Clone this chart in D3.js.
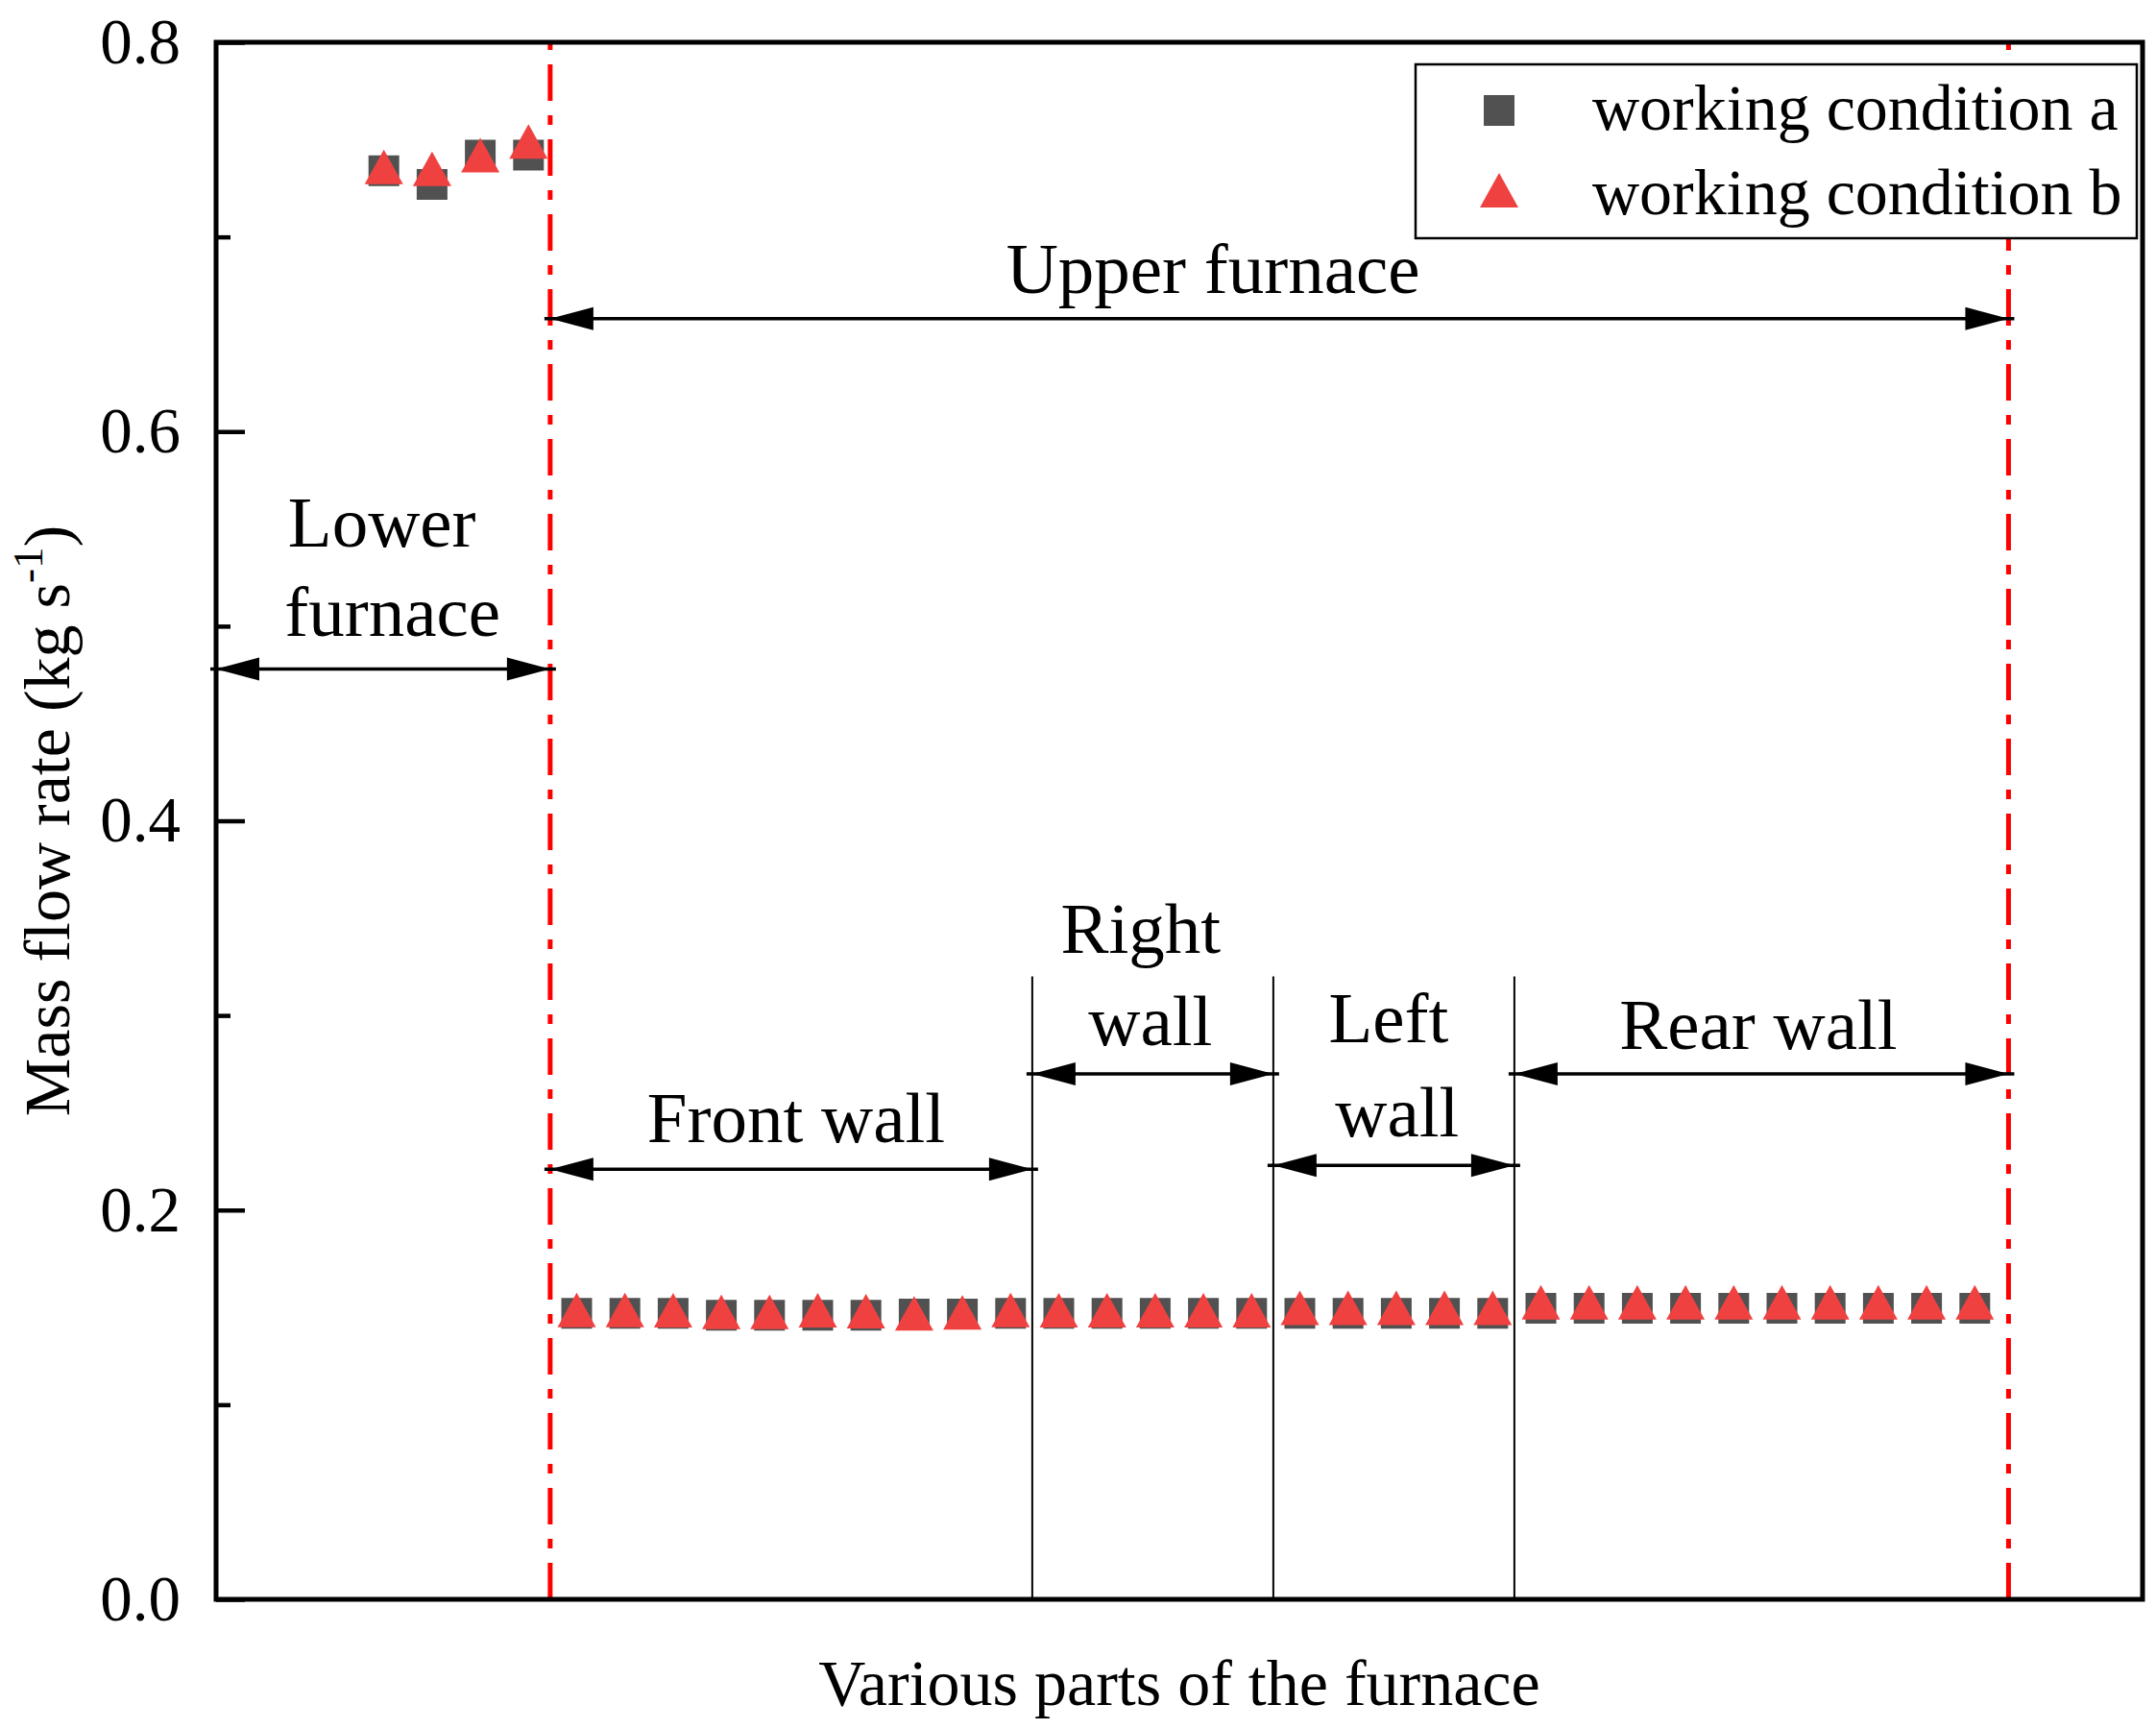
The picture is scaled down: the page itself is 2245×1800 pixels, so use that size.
<!DOCTYPE html>
<html>
<head>
<meta charset="utf-8">
<script src="https://cdn.jsdelivr.net/npm/d3@7"></script>
<style>
  body { margin: 0; background: white; }
  text { font-family: "Liberation Serif", "Times New Roman", serif; fill: black; }
</style>
</head>
<body>
<main></main>
<script>
// measuring points along the furnace walls (index order)
const positions = [1, 2, 3, 4,
    5, 6, 7, 8, 9, 10, 11, 12, 13, 14,
    15, 16, 17, 18, 19,
    20, 21, 22, 23, 24,
    25, 26, 27, 28, 29, 30, 31, 32, 33, 34]

// mass flow rate, kg/s
const conditionA = [0.734, 0.727, 0.742, 0.742,
    0.147, 0.147, 0.147, 0.146, 0.146, 0.146, 0.146, 0.1466, 0.1466, 0.147,
    0.147, 0.147, 0.147, 0.147, 0.147,
    0.147, 0.147, 0.147, 0.147, 0.147,
    0.1495, 0.1495, 0.1495, 0.1495, 0.1495, 0.1495, 0.1495, 0.1495, 0.1495, 0.1495]

const conditionB = [0.736, 0.735, 0.742, 0.749,
    0.1487, 0.1487, 0.1485, 0.1477, 0.1477, 0.1485, 0.148, 0.147, 0.1475, 0.1487,
    0.1486, 0.1486, 0.1486, 0.1486, 0.1486,
    0.1498, 0.1498, 0.1498, 0.1498, 0.1498,
    0.1526, 0.1526, 0.1526, 0.1526, 0.1526, 0.1526, 0.1526, 0.1526, 0.1526, 0.1526]

const seriesNames = ["working condition a", "working condition b"]

const yMajorTicks = [0, 0.2, 0.4, 0.6, 0.8]
const yMinorTicks = [0.1, 0.3, 0.5, 0.7]

// furnace zone borders (red) and wall borders (black)
const zoneBorders = [4.45, 34.7]
const wallBorders = [14.45, 19.45, 24.45]
const wallBorderTop = 0.32

// double arrows marking each zone
const spans = [
    { from: -2.48, to: 4.45, y: 0.478 },
    { from: 4.45, to: 34.7, y: 0.658 },
    { from: 4.45, to: 14.45, y: 0.221 },
    { from: 14.45, to: 19.45, y: 0.270 },
    { from: 19.45, to: 24.45, y: 0.223 },
    { from: 24.45, to: 34.7, y: 0.270 }
]

const zoneLabels = [
    { text: "Upper furnace", x: 18.2, y: 0.671 },
    { text: "Lower", x: 0.96, y: 0.541 },
    { text: "furnace", x: 1.18, y: 0.495 },
    { text: "Front wall", x: 9.55, y: 0.235 },
    { text: "Right", x: 16.7, y: 0.332 },
    { text: "wall", x: 16.9, y: 0.285 },
    { text: "Left", x: 21.84, y: 0.286 },
    { text: "wall", x: 22.02, y: 0.238 },
    { text: "Rear wall", x: 29.51, y: 0.283 }
]

const svgWidth = 2245
const svgHeight = 1800
const plotLeft = 225
const plotRight = 2231
const plotTop = 44
const plotBottom = 1665

const squareColor = "#515151"
const triangleColor = "#f04141"

let svg = d3.select("main")
    .append("svg")
    .attr("width", svgWidth)
    .attr("height", svgHeight)
    .style("background-color", "white")
    .style("display", "block")

let xScale = d3.scaleLinear()
    .domain([-2.48, 37.48])
    .range([plotLeft, plotRight])

let yScale = d3.scaleLinear()
    .domain([0, 0.8])
    .range([plotBottom, plotTop])

const squarePath = "M-16,-16H16V16H-16Z"
const trianglePath = "M0,-18L20,18H-20Z"

// wall dividers
svg.append("g")
    .selectAll("line")
    .data(wallBorders)
    .enter()
    .append("line")
    .attr("x1", d => xScale(d))
    .attr("x2", d => xScale(d))
    .attr("y1", yScale(0))
    .attr("y2", yScale(wallBorderTop))
    .attr("stroke", "black")
    .attr("stroke-width", 2)

// zone borders
svg.append("g")
    .selectAll("line")
    .data(zoneBorders)
    .enter()
    .append("line")
    .attr("x1", d => xScale(d))
    .attr("x2", d => xScale(d))
    .attr("y1", yScale(0))
    .attr("y2", yScale(0.8))
    .attr("stroke", "#ff0000")
    .attr("stroke-width", 5)
    .attr("stroke-dasharray", "38,15,10,15")

// arrows
let arrows = svg.append("g")
spans.forEach(s => {
    let x1 = xScale(s.from)
    let x2 = xScale(s.to)
    let y = yScale(s.y)
    arrows.append("line")
        .attr("x1", x1 - 6)
        .attr("x2", x2 + 6)
        .attr("y1", y)
        .attr("y2", y)
        .attr("stroke", "black")
        .attr("stroke-width", 3.5)
    arrows.append("path")
        .attr("d", `M${x1},${y}L${x1 + 45},${y - 12}V${y + 12}Z`)
        .attr("fill", "black")
    arrows.append("path")
        .attr("d", `M${x2},${y}L${x2 - 45},${y - 12}V${y + 12}Z`)
        .attr("fill", "black")
})

svg.append("g")
    .selectAll("text")
    .data(zoneLabels)
    .enter()
    .append("text")
    .attr("x", d => xScale(d.x))
    .attr("y", d => yScale(d.y))
    .attr("text-anchor", "middle")
    .style("font-size", "75px")
    .text(d => d.text)

// data points
let pointsA = positions.map((p, i) => ({ x: p, y: conditionA[i] }))
let pointsB = positions.map((p, i) => ({ x: p, y: conditionB[i] }))

svg.append("g")
    .selectAll("path")
    .data(pointsA)
    .enter()
    .append("path")
    .attr("d", squarePath)
    .attr("transform", d => `translate(${xScale(d.x)}, ${yScale(d.y)})`)
    .attr("fill", squareColor)

svg.append("g")
    .selectAll("path")
    .data(pointsB)
    .enter()
    .append("path")
    .attr("d", trianglePath)
    .attr("transform", d => `translate(${xScale(d.x)}, ${yScale(d.y)})`)
    .attr("fill", triangleColor)

// frame
svg.append("rect")
    .attr("x", plotLeft)
    .attr("y", plotTop)
    .attr("width", plotRight - plotLeft)
    .attr("height", plotBottom - plotTop)
    .attr("fill", "none")
    .attr("stroke", "black")
    .attr("stroke-width", 5)

// y axis, ticks pointing inward
let leftAxis = d3.axisLeft(yScale)
    .tickValues(yMajorTicks)
    .tickSize(-30)
    .tickPadding(37)
    .tickFormat(d3.format(".1f"))

let yAxis = svg.append("g")
    .attr("transform", `translate(${plotLeft}, 0)`)
    .call(leftAxis)

yAxis.select(".domain").remove()
yAxis.selectAll("line").attr("stroke", "black").attr("stroke-width", 4.5)
yAxis.selectAll("text")
    .style("font-size", "67px")
    .style("font-family", "'Liberation Serif', serif")
    .attr("fill", "black")

let minorAxis = d3.axisLeft(yScale)
    .tickValues(yMinorTicks)
    .tickSize(-15)
    .tickFormat("")

let yMinor = svg.append("g")
    .attr("transform", `translate(${plotLeft}, 0)`)
    .call(minorAxis)

yMinor.select(".domain").remove()
yMinor.selectAll("line").attr("stroke", "black").attr("stroke-width", 4.5)

// axis titles
let yTitle = svg.append("text")
    .attr("transform", `translate(72, ${(plotTop + plotBottom) / 2}) rotate(-90)`)
    .attr("text-anchor", "middle")
    .style("font-size", "68px")

yTitle.append("tspan").text("Mass flow rate (kg s")
yTitle.append("tspan").attr("dy", -28).style("font-size", "45px").text("-1")
yTitle.append("tspan").attr("dy", 28).text(")")

svg.append("text")
    .attr("x", (plotLeft + plotRight) / 2)
    .attr("y", 1775)
    .attr("text-anchor", "middle")
    .style("font-size", "68px")
    .text("Various parts of the furnace")

// legend
let legend = svg.append("g")

legend.append("rect")
    .attr("x", 1474)
    .attr("y", 67)
    .attr("width", 751)
    .attr("height", 181)
    .attr("fill", "white")
    .attr("stroke", "black")
    .attr("stroke-width", 2.5)

let legendRows = legend.selectAll("g")
    .data(seriesNames)
    .enter()
    .append("g")
    .attr("transform", (d, i) => `translate(1561, ${115 + i * 83})`)

legendRows.append("path")
    .attr("d", (d, i) => i === 0 ? squarePath : trianglePath)
    .attr("fill", (d, i) => i === 0 ? squareColor : triangleColor)

legendRows.append("text")
    .attr("x", 97)
    .attr("y", (d, i) => 20 + i * 5)
    .style("font-size", "68px")
    .text(d => d)
</script>
</body>
</html>
